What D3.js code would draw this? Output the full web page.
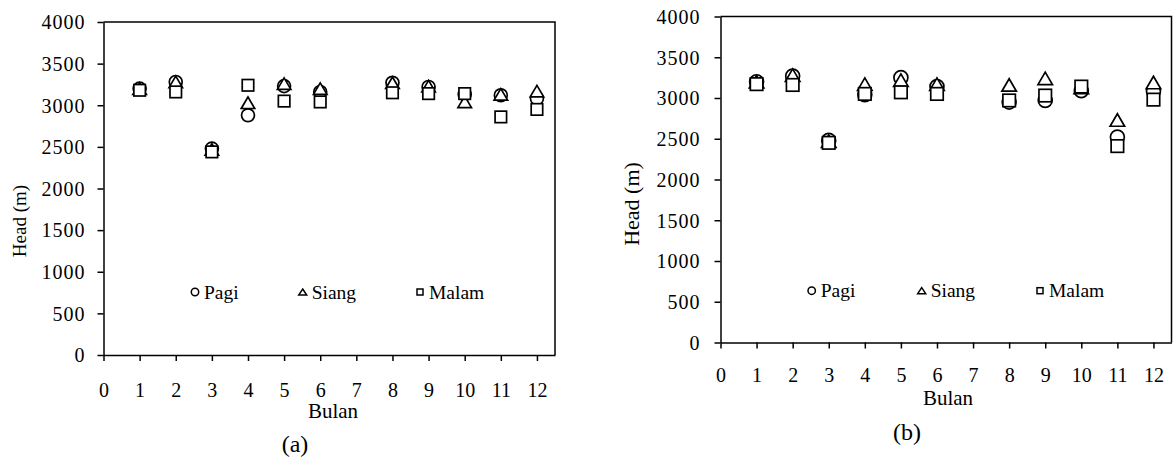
<!DOCTYPE html>
<html>
<head>
<meta charset="utf-8">
<script src="https://cdn.jsdelivr.net/npm/d3@7"></script>
<style>
  html, body { margin: 0; padding: 0; background: #fff; }
  svg { display: block; }
</style>
</head>
<body>
<svg id="chart" width="1175" height="459" font-family="Liberation Serif, Times New Roman, serif"></svg>
<script>
// ---------- data ----------
const months = [1, 2, 3, 4, 5, 6, 8, 9, 10, 11, 12];
const xTickValues = [0, 1, 2, 3, 4, 5, 6, 7, 8, 9, 10, 11, 12];
const yTickValues = [0, 500, 1000, 1500, 2000, 2500, 3000, 3500, 4000];
const seriesNames = ["Pagi", "Siang", "Malam"];
const panelLabels = ["(a)", "(b)"];
const xTitle = "Bulan";
const yTitle = "Head (m)";

const pagiA  = [3200, 3280, 2480, 2880, 3230, 3160, 3270, 3220, 3130, 3120, 3080];
const siangA = [3200, 3280, 2470, 3030, 3260, 3200, 3270, 3230, 3040, 3130, 3170];
const malamA = [3180, 3160, 2440, 3240, 3050, 3040, 3150, 3140, 3140, 2860, 2950];

const pagiB  = [3200, 3270, 2480, 3040, 3250, 3140, 2950, 2970, 3090, 2520, 3080];
const siangB = [3200, 3280, 2470, 3170, 3220, 3170, 3160, 3240, 3130, 2730, 3190];
const malamB = [3170, 3160, 2450, 3050, 3070, 3050, 2970, 3030, 3140, 2410, 2980];

// ---------- layout ----------
const FONT = "'Liberation Serif', 'Times New Roman', serif";
const panels = [
  {
    series: [pagiA, siangA, malamA], label: panelLabels[0],
    left: 103.5, right: 555, top: 22, bottom: 355,
    xTickY: 397, titleX: 333, titleY: 418, labelX: 295, labelY: 452,
    yTitleX: 20, yTitleY: 221, yTitleSize: 19, yTickGap: 19,
    marker: 12.5, legendY: 292, legendTextY: 299,
    legendX: [195, 302.7, 420]
  },
  {
    series: [pagiB, siangB, malamB], label: panelLabels[1],
    left: 720.5, right: 1171.5, top: 16.5, bottom: 342.5,
    xTickY: 382, titleX: 948, titleY: 405, labelX: 907, labelY: 440,
    yTitleX: 632, yTitleY: 204, yTitleSize: 22, yTickGap: 21,
    marker: 13.5, legendY: 290.7, legendTextY: 296.7,
    legendX: [811.7, 921.7, 1040]
  }
];

const svg = d3.select("#chart");

function drawMarker(g, type, size) {
  const s = size;
  if (type === 0) {
    g.append("circle").attr("r", s / 2 + 0.2);
  } else if (type === 1) {
    const w = s + 1, h = s - 1;
    g.append("path").attr("d", `M0,${-h / 2}L${w / 2},${h / 2}L${-w / 2},${h / 2}Z`);
  } else {
    g.append("rect").attr("x", -s / 2 + 0.5).attr("y", -s / 2 + 0.5)
      .attr("width", s - 1).attr("height", s - 1);
  }
}

function styleText(sel, size) {
  return sel.attr("font-family", FONT).style("font-family", FONT)
    .style("font-size", size + "px").attr("fill", "#000");
}

panels.forEach(p => {
  const x = d3.scaleLinear().domain([0, 12.5]).range([p.left, p.right]);
  const y = d3.scaleLinear().domain([0, 4000]).range([p.bottom, p.top]);
  const g = svg.append("g");

  // plot border (top and right)
  g.append("path")
    .attr("d", `M${p.left},${p.top}H${p.right}V${p.bottom}`)
    .attr("fill", "none").attr("stroke", "#000").attr("stroke-width", 1.5);

  // x axis
  const xAxis = g.append("g").attr("transform", `translate(0,${p.bottom})`)
    .call(d3.axisBottom(x).tickValues(xTickValues).tickSize(6).tickSizeOuter(0).tickFormat(d3.format("d")));
  xAxis.attr("font-family", FONT);
  xAxis.select(".domain").attr("stroke-width", 1.5);
  xAxis.selectAll(".tick line").attr("stroke-width", 1.5);
  styleText(xAxis.selectAll(".tick text"), 20)
    .attr("y", p.xTickY - p.bottom).attr("dy", null);

  // y axis
  const yAxis = g.append("g").attr("transform", `translate(${p.left},0)`)
    .call(d3.axisLeft(y).tickValues(yTickValues).tickSize(6).tickSizeOuter(0).tickFormat(d3.format("d")));
  yAxis.attr("font-family", FONT);
  yAxis.select(".domain").attr("stroke-width", 1.5);
  yAxis.selectAll(".tick line").attr("stroke-width", 1.5);
  styleText(yAxis.selectAll(".tick text"), 20)
    .style("letter-spacing", "1px")
    .attr("x", -p.yTickGap + 1).attr("dy", "0.34em");

  // titles
  styleText(g.append("text"), 21).attr("x", p.titleX).attr("y", p.titleY)
    .attr("text-anchor", "middle").text(xTitle);
  styleText(g.append("text"), p.yTitleSize)
    .attr("transform", `translate(${p.yTitleX},${p.yTitleY}) rotate(-90)`)
    .attr("text-anchor", "middle").attr("dy", "0.34em").text(yTitle);
  styleText(g.append("text"), 24).attr("x", p.labelX).attr("y", p.labelY)
    .attr("text-anchor", "middle").text(p.label);

  // markers
  p.series.forEach((vals, si) => {
    const sg = g.append("g").attr("fill", "#fff").attr("stroke", "#000").attr("stroke-width", 1.7);
    vals.forEach((v, i) => {
      const mg = sg.append("g").attr("transform", `translate(${x(months[i])},${y(v)})`);
      drawMarker(mg, si, p.marker);
    });
  });

  // legend
  seriesNames.forEach((name, si) => {
    const lx = p.legendX[si];
    const mg = g.append("g").attr("transform", `translate(${lx},${p.legendY})`)
      .attr("fill", "#fff").attr("stroke", "#000").attr("stroke-width", 1.5);
    drawMarker(mg, si, 7);
    styleText(g.append("text"), 19.5).attr("x", lx + 9).attr("y", p.legendTextY).text(name);
  });
});
</script>
</body>
</html>
